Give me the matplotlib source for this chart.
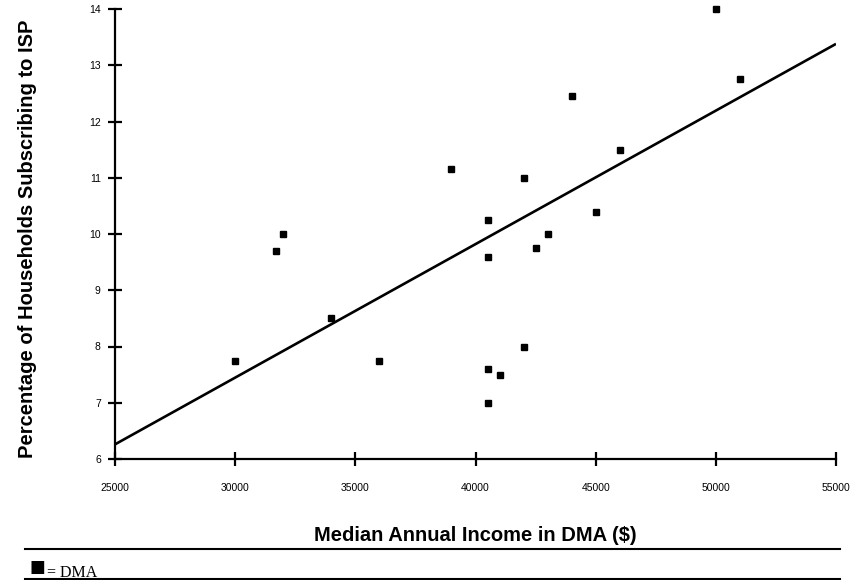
import matplotlib

matplotlib.use("Agg")
import matplotlib.pyplot as plt
from matplotlib.lines import Line2D

# Median annual income per DMA ($) and share of households subscribing to an ISP (%)
income = [30000, 31700, 32000, 34000, 36000, 39000, 40500, 40500, 40500, 40500,
          41000, 42000, 42000, 42500, 43000, 44000, 45000, 46000, 50000, 51000]
pct_isp = [7.75, 9.7, 10.0, 8.5, 7.75, 11.15, 10.25, 9.6, 7.6, 7.0,
           7.5, 11.0, 8.0, 9.75, 10.0, 12.45, 10.4, 11.5, 14.0, 12.75]

# Trend line end points, as drawn in the source chart
fit_x = [25000, 55000]
fit_y = [6.26, 13.38]

x_ticks = [25000, 30000, 35000, 40000, 45000, 50000, 55000]
y_ticks = [6, 7, 8, 9, 10, 11, 12, 13, 14]

plt.rcParams["font.family"] = ["Liberation Sans", "DejaVu Sans"]

fig = plt.figure(figsize=(8.64, 5.80), dpi=100)
ax = fig.add_axes([115 / 864, 1 - 459 / 580, (836 - 115) / 864, (459 - 9) / 580])

ax.plot(fit_x, fit_y, color="black", linewidth=1.9, solid_capstyle="butt")
ax.plot(income, pct_isp, linestyle="none", marker="s", markersize=4.6,
        color="black", clip_on=False)

ax.set_xlim(25000, 55000)
ax.set_ylim(6, 14)
ax.set_xticks(x_ticks)
ax.set_yticks(y_ticks)
ax.set_xticklabels([str(v) for v in x_ticks])
ax.set_yticklabels([str(v) for v in y_ticks])

for side in ("top", "right"):
    ax.spines[side].set_visible(False)
for side in ("left", "bottom"):
    ax.spines[side].set_linewidth(1.6)

ax.tick_params(axis="both", direction="inout", length=10.5, width=1.6,
               labelsize=7.5, colors="black")
ax.tick_params(axis="x", pad=12)
ax.tick_params(axis="y", pad=5)

ax.set_xlabel("Median Annual Income in DMA ($)", fontsize=14.5, fontweight="bold",
              labelpad=24)
ax.set_ylabel("Percentage of Households Subscribing to ISP", fontsize=14.5,
              fontweight="bold", labelpad=44)
ax.yaxis.set_label_coords(-0.108, 0.49)

# Key box under the plot
for y_px in (549, 579):
    fig.add_artist(Line2D([25 / 864, 840 / 864], [1 - y_px / 580] * 2,
                          color="black", linewidth=1.5))
fig.text(29 / 864, 1 - 572 / 580, "\u25A0", fontsize=12, color="black",
         family="DejaVu Sans", va="baseline")
fig.text(47 / 864, 1 - 577 / 580, "= DMA", fontsize=11.5,
         family="Liberation Serif", va="baseline")

fig.savefig("out.png", dpi=100)
